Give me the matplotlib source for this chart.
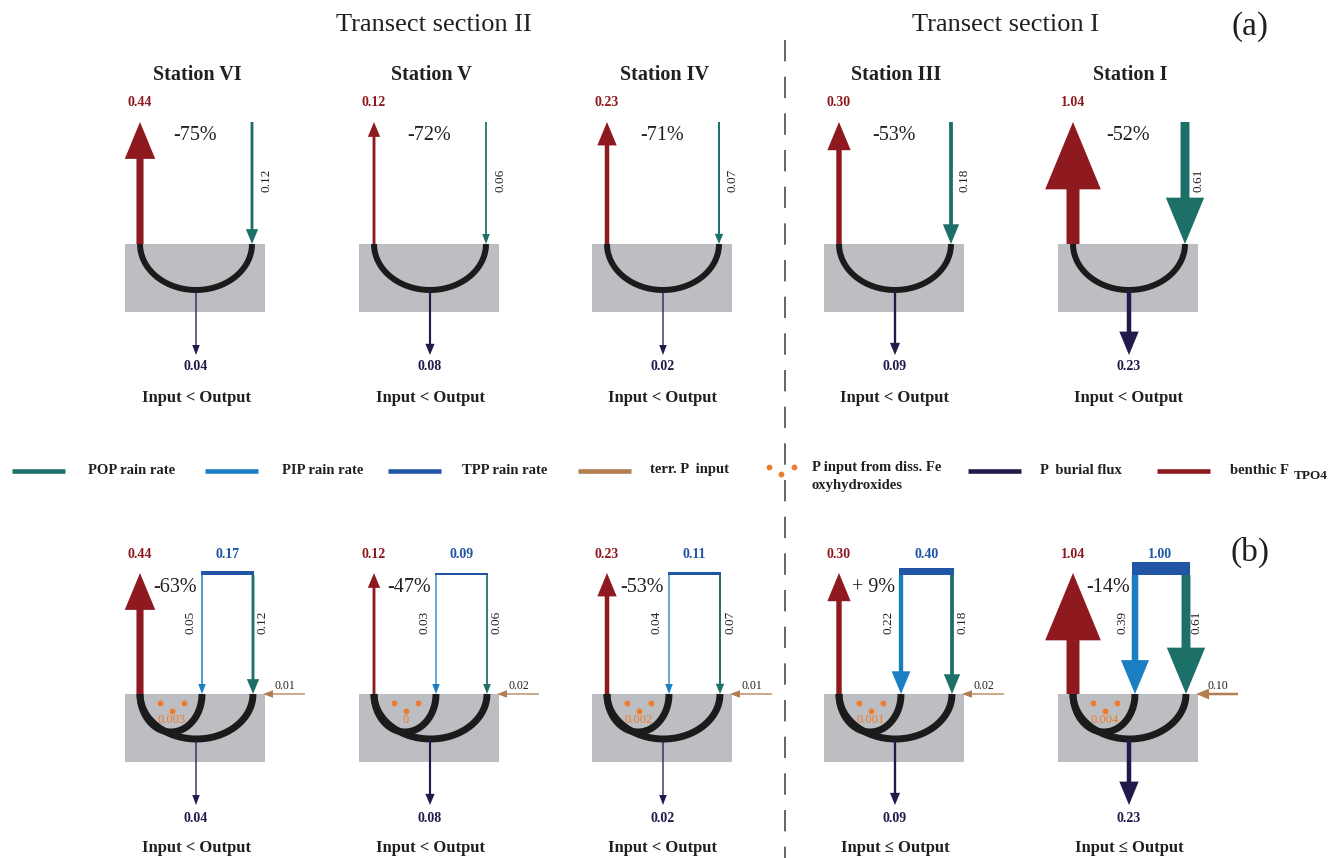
import numpy as np
import matplotlib
matplotlib.use("Agg")
import matplotlib.pyplot as plt
from matplotlib.patches import FancyArrow, Rectangle

# ---------------- data ----------------
stations = ["Station VI", "Station V", "Station IV", "Station III", "Station I"]
sections = ["Transect section II", "Transect section I"]
benthic = [0.44, 0.12, 0.23, 0.30, 1.04]        # benthic F_TPO4
pop_rain = [0.12, 0.06, 0.07, 0.18, 0.61]       # POP rain rate
pip_rain = [0.05, 0.03, 0.04, 0.22, 0.39]       # PIP rain rate
tpp_rain = [0.17, 0.09, 0.11, 0.40, 1.00]       # TPP rain rate
terr_input = [0.01, 0.02, 0.01, 0.02, 0.10]     # terr. P input
fe_input = ["0.003", "0", "0.002", "0.001", "0.004"]
burial = [0.04, 0.08, 0.02, 0.09, 0.23]         # P burial flux
change_a = ["-75%", "-72%", "-71%", "-53%", "-52%"]
change_b = ["-63%", "-47%", "-53%", "+ 9%", "-14%"]
balance_a = ["Input < Output"] * 5
balance_b = ["Input < Output", "Input < Output", "Input < Output",
             "Input \u2264 Output", "Input \u2264 Output"]
legend_labels = ["POP rain rate", "PIP rain rate", "TPP rain rate", "terr. P  input",
                 "P input from diss. Fe\noxyhydroxides", "P  burial flux", "benthic F"]

# ---------------- style ----------------
C_RED = "#8e1a1f"
C_POP = "#1d7068"
C_PIP = "#1b7ec3"
C_TPP = "#2155a6"
C_TERR = "#b07e4f"
C_FE = "#ee7c2e"
C_BUR = "#211b4c"
C_BOX = "#bdbec1"
C_CURVE = "#1b1b1b"
FONT = ["Liberation Serif", "DejaVu Serif"]
plt.rcParams["font.family"] = FONT

W, H = 1333, 858
fig = plt.figure(figsize=(W / 100, H / 100), dpi=100)
ax = fig.add_axes([0, 0, 1, 1])
ax.set_xlim(0, W)
ax.set_ylim(H, 0)
ax.axis("off")


def wpx(v):
    return max(1.3, 12.6 * v ** 0.7)


def arrow(x0, y0, x1, y1, v, color, z=3):
    w = wpx(v)
    hw = max(7.5, 4.3 * w)
    hl = max(10.0, 5.2 * w)
    ax.add_patch(FancyArrow(x0, y0, x1 - x0, y1 - y0, width=w, head_width=hw,
                            head_length=hl, length_includes_head=True,
                            color=color, lw=0, zorder=z))


def ucurve(xl, xr, ytop, depth, lw):
    t = np.linspace(0, np.pi, 200)
    cx, rx = (xl + xr) / 2, (xr - xl) / 2
    x = cx + rx * np.cos(t)
    y = ytop + depth * np.sin(t)
    ax.plot(x, y, color=C_CURVE, lw=lw, solid_capstyle="butt", zorder=2)


# layout (pixels)
L = [125, 359, 592, 824, 1058]
BW, BH = 140, 68
TOP_A, TOP_B = 244, 694

# headers
ax.text(434, 25, sections[0], ha="center", va="center", fontsize=19, color="#231f20")
ax.text(1005, 25, sections[1], ha="center", va="center", fontsize=19, color="#231f20")
ax.text(1250, 27, "(a)", ha="center", va="center", fontsize=24, color="#231f20")
ax.text(1250, 552, "(b)", ha="center", va="center", fontsize=24, color="#231f20")
ax.plot([785, 785], [40, H], color="#3a3a3a", lw=1.1, linestyle=(0, (14, 10)))

for i, lx in enumerate(L):
    red_x = lx + 15
    pop_x = lx + 127
    pip_x = lx + 77
    mid_x = lx + 71

    # ---------------- panel (a) ----------------
    ax.text(lx + 72, 75, stations[i], ha="center", va="center", fontsize=14.5,
            fontweight="bold", color="#231f20")
    ax.add_patch(Rectangle((lx, TOP_A), BW, BH, color=C_BOX, lw=0, zorder=1))
    ucurve(red_x, pop_x, TOP_A, 46, 4.3)
    arrow(red_x, TOP_A, red_x, 122, benthic[i], C_RED)
    arrow(pop_x, 122, pop_x, TOP_A, pop_rain[i], C_POP)
    arrow(mid_x, TOP_A + 46, mid_x, 355, burial[i], C_BUR)
    ax.text(red_x, 103, f"{benthic[i]:.2f}", ha="center", va="center", fontsize=10,
            fontweight="bold", color=C_RED)
    ax.text(pop_x + 14, 180, f"{pop_rain[i]:.2f}", ha="center", va="center", fontsize=9.5,
            rotation=90, color="#231f20")
    ax.text(lx + 70, 135, change_a[i], ha="center", va="center", fontsize=14.5,
            color="#231f20")
    ax.text(mid_x, 367, f"{burial[i]:.2f}", ha="center", va="center", fontsize=10,
            fontweight="bold", color=C_BUR)
    ax.text(mid_x, 398, balance_a[i], ha="center", va="center", fontsize=12,
            fontweight="bold", color="#231f20")

    # ---------------- panel (b) ----------------
    pop_x = lx + 128
    ax.add_patch(Rectangle((lx, TOP_B), BW, BH, color=C_BOX, lw=0, zorder=1))
    ucurve(red_x, pop_x, TOP_B, 45, 5.0)
    ucurve(red_x, pip_x, TOP_B, 38, 5.0)
    arrow(red_x, TOP_B, red_x, 573, benthic[i], C_RED)
    wt = wpx(tpp_rain[i])
    x0 = pip_x - wpx(pip_rain[i]) / 2
    x1 = pop_x + wpx(pop_rain[i]) / 2
    ax.add_patch(Rectangle((x0, 575 - wt), x1 - x0, wt, color=C_TPP, lw=0, zorder=3))
    arrow(pip_x, 575, pip_x, TOP_B, pip_rain[i], C_PIP)
    arrow(pop_x, 575, pop_x, TOP_B, pop_rain[i], C_POP)
    arrow(lx + 180, TOP_B, lx + 138, TOP_B, terr_input[i], C_TERR)
    arrow(mid_x, TOP_B + 45, mid_x, 805, burial[i], C_BUR)
    ax.plot([lx + 35, lx + 59, lx + 47], [703, 703, 711], "o", color=C_FE,
            ms=4.2, mew=0, zorder=3)
    ax.text(lx + 47, 720, fe_input[i], ha="center", va="center", fontsize=9,
            color=C_FE, zorder=3)
    ax.text(red_x, 555, f"{benthic[i]:.2f}", ha="center", va="center", fontsize=10,
            fontweight="bold", color=C_RED)
    ax.text((pip_x + pop_x) / 2, 554, f"{tpp_rain[i]:.2f}", ha="center", va="center",
            fontsize=10, fontweight="bold", color=C_TPP)
    ax.text(lx + 50, 588, change_b[i], ha="center", va="center", fontsize=14.5,
            color="#231f20", zorder=4)
    ax.text(pip_x - 12, 622, f"{pip_rain[i]:.2f}", ha="center", va="center",
            fontsize=9.5, rotation=90, color="#231f20")
    ax.text(pop_x + 10, 622, f"{pop_rain[i]:.2f}", ha="center", va="center",
            fontsize=9.5, rotation=90, color="#231f20")
    ax.text(lx + 160, 686, f"{terr_input[i]:.2f}", ha="center", va="center",
            fontsize=8.5, color="#231f20")
    ax.text(mid_x, 818, f"{burial[i]:.2f}", ha="center", va="center", fontsize=10,
            fontweight="bold", color=C_BUR)
    ax.text(mid_x, 848, balance_b[i], ha="center", va="center", fontsize=12,
            fontweight="bold", color="#231f20")

# ---------------- legend ----------------
LEG_Y = 471
line_specs = [(12, 65, C_POP, 88), (205, 258, C_PIP, 282), (388, 441, C_TPP, 462),
              (578, 631, C_TERR, 650), None, (968, 1021, C_BUR, 1040),
              (1157, 1210, C_RED, 1230)]
for spec, lab in zip(line_specs, legend_labels):
    if spec is None:
        ax.plot([769, 794, 781], [467, 467, 474], "o", color=C_FE, ms=4.2, mew=0)
        ax.text(812, 461, lab, ha="left", va="top", fontsize=10.5, fontweight="bold",
                color="#231f20", linespacing=1.55)
        continue
    xa, xb, col, xt = spec
    ax.plot([xa, xb], [LEG_Y, LEG_Y], color=col, lw=3.3, solid_capstyle="butt")
    ax.text(xt, 470, lab, ha="left", va="center", fontsize=10.5, fontweight="bold",
            color="#231f20")
ax.text(1294, 476, "TPO4", ha="left", va="center", fontsize=9.5, fontweight="bold",
        color="#231f20")

fig.savefig("out.png", dpi=100)
